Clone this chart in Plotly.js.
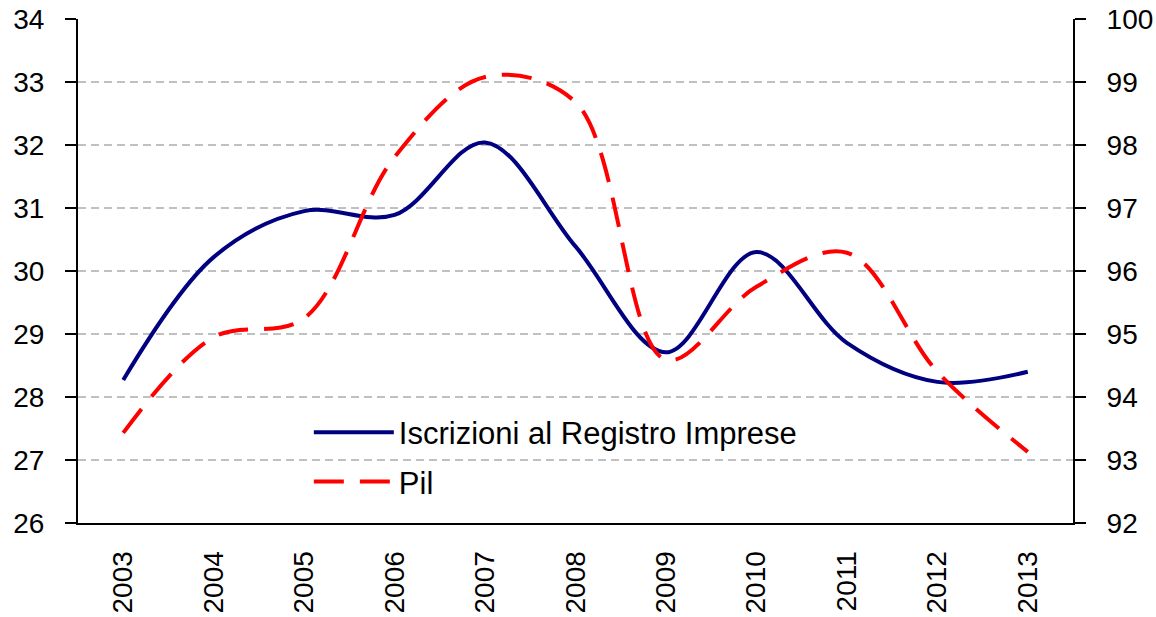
<!DOCTYPE html>
<html>
<head>
<meta charset="utf-8">
<script src="https://cdn.plot.ly/plotly-3.0.1.min.js"></script>
<style>html,body{margin:0;padding:0;background:#fff;}#chart{width:1156px;height:617px;}</style>
</head>
<body>
<div id="chart"></div>
<script>
const years = ['2003','2004','2005','2006','2007','2008','2009','2010','2011','2012','2013'];
const iscrizioni = [28.27, 30.22, 30.95, 30.89, 32.04, 30.39, 28.71, 30.30, 28.86, 28.24, 28.40];
const pil = [93.43, 94.95, 95.25, 97.81, 99.08, 98.68, 94.59, 95.75, 96.29, 94.40, 93.13];
const leftTicks = [26, 27, 28, 29, 30, 31, 32, 33, 34];
const rightTicks = [92, 93, 94, 95, 96, 97, 98, 99, 100];
const seriesNames = ['Iscrizioni al Registro Imprese', 'Pil'];

const FONT = 'Liberation Sans, Arial, sans-serif';

const traces = [
  {
    x: years, y: iscrizioni, name: seriesNames[0], type: 'scatter', mode: 'lines',
    line: {color: '#000080', width: 4, shape: 'spline', smoothing: 1},
    xaxis: 'x', yaxis: 'y', legendgroup: 'a'
  },
  {
    x: years, y: pil, name: seriesNames[1], type: 'scatter', mode: 'lines',
    line: {color: '#ff0000', width: 4, shape: 'spline', smoothing: 1, dash: '30px,16px'},
    xaxis: 'x', yaxis: 'y2', legendgroup: 'b'
  }
];

const common = {
  showline: false, zeroline: false, showgrid: false, showticklabels: false,
  tickcolor: '#000', tickwidth: 2, ticklen: 10, tickmode: 'array'
};

const layout = {
  width: 1156, height: 617,
  margin: {l: 78, r: 83, t: 19, b: 94, pad: 0},
  paper_bgcolor: '#fff', plot_bgcolor: '#fff',
  font: {family: FONT, size: 28, color: '#000'},
  showlegend: true,
  legend: {
    x: 0.232, y: 0.233, xanchor: 'left', yanchor: 'top',
    bgcolor: 'rgba(0,0,0,0)', font: {family: FONT, size: 31, color: '#000'},
    tracegroupgap: 6, itemwidth: 80
  },
  xaxis: {
    type: 'category', range: [-0.5, 10.5], showline: true, linecolor: '#000', linewidth: 2,
    ticks: '', tickangle: -90, showgrid: false, zeroline: false,
    tickfont: {family: FONT, size: 28}, ticklabelstandoff: 15
  },
  yaxis: {
    range: [26, 34], tickmode: 'array', tickvals: leftTicks, ticktext: leftTicks.map(String),
    showline: true, linecolor: '#000', linewidth: 2,
    ticks: 'outside', ticklen: 11, tickwidth: 2, tickcolor: '#000',
    showgrid: true, gridcolor: '#c0c0c0', gridwidth: 2, griddash: '8px,5px',
    zeroline: false, tickfont: {family: FONT, size: 28}, ticklabelstandoff: 15
  },
  yaxis2: {
    range: [92, 100], tickmode: 'array', tickvals: rightTicks, ticktext: rightTicks.map(String),
    overlaying: 'y', side: 'right', anchor: 'x',
    showline: true, linecolor: '#000', linewidth: 2,
    ticks: 'outside', ticklen: 11, tickwidth: 2, tickcolor: '#000',
    showgrid: false, zeroline: false, tickfont: {family: FONT, size: 28}, ticklabelstandoff: 15
  },
  yaxis3: Object.assign({}, common, {
    range: [26, 34], tickvals: leftTicks, overlaying: 'y', side: 'left', anchor: 'x', ticks: 'inside'
  }),
  yaxis4: Object.assign({}, common, {
    range: [92, 100], tickvals: rightTicks, overlaying: 'y', side: 'right', anchor: 'x', ticks: 'inside'
  })
};

Plotly.newPlot('chart', traces, layout, {staticPlot: true, displayModeBar: false});
</script>
</body>
</html>
